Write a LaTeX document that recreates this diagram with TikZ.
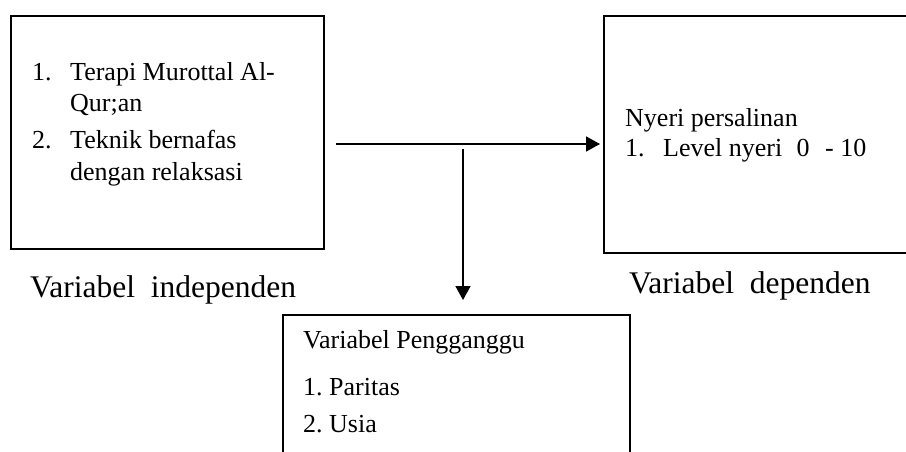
\documentclass[tikz,border=0pt]{standalone}
\usepackage{fontspec}
\setmainfont{Liberation Serif}
\usetikzlibrary{arrows.meta}
\begin{document}
\frenchspacing
\begin{tikzpicture}[x=1pt,y=-1pt,
  boxst/.style={draw,line width=1.8pt,rectangle,inner sep=0pt,anchor=north west},
  txt/.style={inner sep=0pt,anchor=base west,font=\fontsize{26}{31}\selectfont},
  lbl/.style={inner sep=0pt,anchor=base west,font=\fontsize{31.5}{36}\selectfont},
  arr/.style={line width=1.8pt,-{Triangle[length=14pt,width=15pt]}}]
\clip (0,0) rectangle (906,452);
\fill[white] (0,0) rectangle (906,452);
% boxes
\node[boxst,minimum width=313pt,minimum height=233pt] (lbox) at (10,15) {};
\node[boxst,minimum width=330pt,minimum height=237pt] (rbox) at (603,15) {};
\node[boxst,minimum width=347pt,minimum height=170pt] (bbox) at (282,314) {};
% left box text
\node[txt] (l1n) at (32,81) {1.};
\node[txt] (l1a) at (70,81) {Terapi Murottal Al-};
\node[txt] (l1b) at (70,112) {Qur;an};
\node[txt] (l2n) at (32,148) {2.};
\node[txt] (l2a) at (70,148) {Teknik bernafas};
\node[txt] (l2b) at (70,180) {dengan relaksasi};
% right box text
\node[txt] (r0) at (625,126) {Nyeri persalinan};
\node[txt] (r1n) at (625,157) {1.};
\node[txt] (r1a) at (663,157) {Level nyeri\hspace{0.55em}0\hspace{0.6em}- 10};
% bottom box text
\node[txt] (b0) at (303,348) {Variabel Pengganggu};
\node[txt] (b1) at (303,395) {1. Paritas};
\node[txt] (b2) at (303,432) {2. Usia};
% labels
\node[lbl] (lab1) at (30,297) {Variabel\ \ independen};
\node[lbl] (lab2) at (629,293) {Variabel\ \ dependen};
% connectors
\coordinate (hs) at (336,144);
\coordinate (vs) at (463,149);
\draw[arr,shorten >=3pt] (hs) -- (rbox.west |- hs);
\draw[arr,shorten >=14pt] (vs) -- (vs |- bbox.north);
\end{tikzpicture}
\end{document}
